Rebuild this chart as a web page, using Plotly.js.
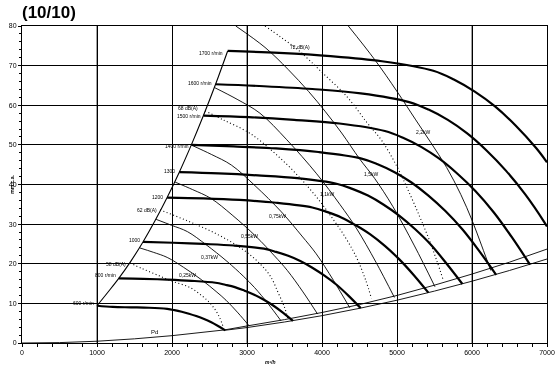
<!DOCTYPE html>
<html><head><meta charset="utf-8">
<script src="https://cdn.plot.ly/plotly-3.0.1.min.js"></script>
<style>html,body{margin:0;padding:0;background:#fff}#chart{width:560px;height:368px;filter:grayscale(100%)}</style>
</head><body><div id="chart"></div>
<script>
// ---------- DATA (m3/h , mm.c.a.) ----------
const rpmNames = ['600 r/min','800 r/min','1000','1200','1300','1400 r/min','1500 r/min','1600 r/min','1700 r/min'];
const rpm600X  = [1000,1210,1452,1694,1936,2033,2130,2226,2323,2420,2517,2614,2710];
const rpm600Y  = [9.4,9.1,9.0,8.9,8.6,8.3,7.9,7.4,6.8,6.1,5.3,4.3,3.2];
const rpm800X  = [1290,1613,1935,2258,2580,2709,2838,2967,3096,3225,3354,3483,3612];
const rpm800Y  = [16.3,16.2,16.0,15.7,15.2,14.7,14.1,13.2,12.2,10.9,9.4,7.6,5.6];
const rpm1000X = [1613,2016,2420,2823,3226,3387,3549,3710,3871,4033,4194,4355,4516];
const rpm1000Y = [25.5,25.3,25.0,24.6,23.8,23.0,22.0,20.7,19.0,17.0,14.7,11.9,8.8];
const rpm1200X = [1935,2419,2903,3386,3870,4064,4257,4451,4644,4838,5031,5225,5418];
const rpm1200Y = [36.7,36.5,36.1,35.4,34.2,33.1,31.7,29.7,27.4,24.5,21.1,17.1,12.7];
const rpm1300X = [2097,2621,3146,3670,4194,4404,4613,4823,5033,5243,5452,5662,5872];
const rpm1300Y = [43.1,42.8,42.3,41.6,40.2,38.9,37.2,34.9,32.1,28.7,24.8,20.0,14.9];
const rpm1400X = [2258,2823,3387,3952,4516,4742,4968,5193,5419,5645,5871,6097,6322];
const rpm1400Y = [50.0,49.6,49.1,48.2,46.6,45.1,43.1,40.5,37.2,33.3,28.7,23.2,17.2];
const rpm1500X = [2419,3024,3629,4233,4838,5080,5322,5564,5806,6048,6289,6531,6773];
const rpm1500Y = [57.4,57.0,56.3,55.4,53.5,51.8,49.5,46.5,42.7,38.3,33.0,26.7,19.8];
const rpm1600X = [2581,3226,3871,4517,5162,5420,5678,5936,6194,6452,6710,6968,7000];
const rpm1600Y = [65.3,64.8,64.1,63.0,60.8,58.9,56.3,52.9,48.6,43.5,37.5,30.4,29.4];
const rpm1700X = [2742,3428,4113,4799,5484,5758,6032,6307,6581,6855,7000];
const rpm1700Y = [73.7,73.2,72.4,71.1,68.7,66.5,63.5,59.7,54.9,49.2,45.6];

// left limit curve through the start of each speed curve
const limitX = [1000,1145,1290,1450,1613,1775,1935,2097,2258,2419,2581,2742];
const limitY = [9.4,12.8,16.3,20.6,25.5,30.9,36.7,43.1,50.0,57.4,65.3,73.7];

// dynamic pressure Pd and the lower limit line
const pdX  = [0,500,1000,1500,2000,2500,2700,3000,3500,4000,4500,5000,5500,6000,6500,7000];
const pdY  = [0,0.1,0.45,1.05,1.85,2.9,3.3,4.3,5.9,7.7,9.7,12.0,14.6,17.4,20.4,23.7];
const lowX = [2700,3000,3500,4000,4500,5000,5500,6000,6500,7000];
const lowY = [3.2,3.9,5.3,6.9,8.75,10.8,13.1,15.6,18.3,21.2];

// iso-power lines (kW)
const kwNames = ['0,25kW','0,37kW','0,55kW','0,75kW','1,1kW','1,5kW','2,2kW'];
const kw025X = [1570,1750,1936,2154,2398,2588,2720,2880,3030];
const kw025Y = [24.0,22.9,21.6,19.1,15.9,13.0,10.8,7.6,4.3];
const kw037X = [1789,1994,2206,2455,2733,2949,3100,3282,3453];
const kw037Y = [31.2,29.7,28.1,24.8,20.6,16.9,14.0,9.9,5.6];
const kw055X = [2042,2276,2518,2802,3119,3366,3538,3746,3941];
const kw055Y = [40.6,38.7,36.5,32.3,26.9,22.0,18.3,12.9,7.3];
const kw075X = [2264,2524,2792,3107,3458,3732,3923,4153,4370];
const kw075Y = [49.9,47.6,44.9,39.7,33.1,27.0,22.5,15.8,8.9];
const kw11X  = [2573,2868,3172,3530,3929,4241,4457,4719,4965];
const kw11Y  = [64.4,61.5,58.0,51.3,42.7,34.9,29.0,20.4,11.5];
const kw15X  = [2850,3240,3550,3820,4040,4262,4500,4703,4943,5233,5506];
const kw15Y  = [80.0,74.6,69.0,63.5,58.5,53.0,46.5,41.5,34.5,24.5,14.2];
const kw22X  = [4351,4707,4996,5250,5450,5662,5850,6000,6130,6250];
const kw22Y  = [80.0,71.4,63.6,56.3,50.6,44.3,37.5,31.0,24.5,18.3];

// iso-noise lines dB(A)
const dbNames = ['58 dB(A)','62 dB(A)','68 dB(A)','72 dB(A)'];
const db58X = [1440,1600,1800,2000,2240,2400,2500,2580,2640,2680];
const db58Y = [20.2,18.8,17.2,15.6,14.0,11.9,10.2,8.3,6.2,4.2];
const db62X = [1840,2196,2596,2907,3129,3307,3420,3500,3545];
const db62Y = [33.6,30.9,27.5,24.1,20.8,17.0,12.5,9.0,6.2];
const db68X = [2440,2684,3040,3400,3700,3920,4100,4300,4460,4580,4660];
const db68Y = [58.6,56.3,52.9,47.4,41.8,37.0,32.5,27.0,21.6,16.0,11.2];
const db72X = [3240,3450,3684,4000,4340,4600,4800,5000,5150,5300,5420,5530,5620];
const db72Y = [80.0,77.2,73.9,68.3,62.0,55.6,51.0,44.5,38.5,32.0,26.5,20.8,15.7];

const xTicks = [0,1000,2000,3000,4000,5000,6000,7000];
const yTicks = [0,10,20,30,40,50,60,70,80];

// label anchors (data units)
const rpmLabelX = [987,1280,1600,1907,2067,2253,2413,2560,2707];
const rpmLabelY = [10.0,17.2,26.0,36.9,43.5,49.8,57.4,65.5,73.3];
const kwLabelX = [2200,2500,3027,3413,4060,4647,5340];
const kwLabelY = [17.2,21.8,27.0,32.0,37.6,42.6,53.3];
const dbLabelX = [1413,1827,2373,3867];
const dbLabelY = [19.9,33.6,59.2,74.8];

// ---------- BUILD ----------
const FONT = 'Liberation Sans, Arial, sans-serif';
const traces = [];
function add(x, y, line, shape) {
  traces.push({x: x, y: y, type: 'scatter', mode: 'lines', hoverinfo: 'skip', showlegend: false,
    line: Object.assign({shape: shape || 'spline', smoothing: 1}, line)});
}
const thin = {color: '#000', width: 0.9};
const dotted = {color: '#000', width: 1.1, dash: '1px,2.5px'};
const thick = {color: '#000', width: 2.2};

add(pdX, pdY, thin, 'linear');
add(lowX, lowY, thin, 'linear');
add(limitX, limitY, {color: '#000', width: 1.1});
[[kw025X,kw025Y],[kw037X,kw037Y],[kw055X,kw055Y],[kw075X,kw075Y],[kw11X,kw11Y],[kw15X,kw15Y],[kw22X,kw22Y]]
  .forEach(p => add(p[0], p[1], thin));
[[db58X,db58Y],[db62X,db62Y],[db68X,db68Y],[db72X,db72Y]].forEach(p => add(p[0], p[1], dotted));
[[rpm600X,rpm600Y],[rpm800X,rpm800Y],[rpm1000X,rpm1000Y],[rpm1200X,rpm1200Y],[rpm1300X,rpm1300Y],
 [rpm1400X,rpm1400Y],[rpm1500X,rpm1500Y],[rpm1600X,rpm1600Y],[rpm1700X,rpm1700Y]]
  .forEach(p => add(p[0], p[1], thick));

const small = {family: FONT, size: 5, color: '#000'};
const ann = [];
rpmNames.forEach((t, i) => ann.push({x: rpmLabelX[i], y: rpmLabelY[i], text: t, showarrow: false,
  xanchor: 'right', yanchor: 'middle', font: small}));
dbNames.forEach((t, i) => ann.push({x: dbLabelX[i], y: dbLabelY[i], text: t, showarrow: false,
  xanchor: 'right', yanchor: 'middle', font: small}));
kwNames.forEach((t, i) => ann.push({x: kwLabelX[i], y: kwLabelY[i], text: t, showarrow: false,
  xanchor: 'center', yanchor: 'middle', font: small}));
ann.push({x: 1773, y: 2.9, text: 'Pd', showarrow: false, font: {family: FONT, size: 6, color: '#000'}});
ann.push({xref: 'paper', yref: 'paper', x: -0.03, y: 0.5, text: '<b>mm.c.a.</b>', textangle: -90,
  showarrow: false, font: {family: FONT, size: 5, color: '#000'}});
ann.push({xref: 'paper', yref: 'paper', x: 0.473, y: -0.045, yanchor: 'top', text: '<b><i>m³/h</i></b>',
  showarrow: false, font: {family: FONT, size: 5, color: '#000'}});

const shapes = [1000, 3000, 6000].map(v => ({type: 'line', xref: 'x', yref: 'y', x0: v, x1: v, y0: 0, y1: 80,
  layer: 'below', line: {color: '#8a8a8a', width: 1.6}}));

const layout = {
  width: 560, height: 368,
  margin: {l: 22, r: 13, t: 26, b: 25, pad: 0},
  paper_bgcolor: '#fff', plot_bgcolor: '#fff',
  title: {text: '<b>(10/10)</b>', xref: 'container', yref: 'container', x: 22/560, xanchor: 'left',
    y: 1 - 12/368, yanchor: 'middle', font: {family: FONT, size: 17, color: '#000'}},
  xaxis: {range: [0, 7000], tickvals: xTicks, ticktext: xTicks.map(String), showgrid: true, gridcolor: '#000',
    gridwidth: 1, zeroline: false, showline: true, linecolor: '#000', linewidth: 1, mirror: true,
    ticks: 'outside', ticklen: 3, tickcolor: '#000', tickwidth: 1,
    minor: {dtick: 200, ticks: 'outside', ticklen: 3, tickcolor: '#000', showgrid: false},
    tickfont: {family: FONT, size: 7, color: '#000'}, fixedrange: true},
  yaxis: {range: [0, 80], tickvals: yTicks, ticktext: yTicks.map(String), showgrid: true, gridcolor: '#000',
    gridwidth: 1, zeroline: false, showline: true, linecolor: '#000', linewidth: 1, mirror: true,
    ticks: 'outside', ticklen: 3, tickcolor: '#000', tickwidth: 1,
    minor: {dtick: 2, ticks: 'outside', ticklen: 2, tickcolor: '#000', showgrid: false},
    tickfont: {family: FONT, size: 7, color: '#000'}, fixedrange: true},
  annotations: ann,
  shapes: shapes
};
Plotly.newPlot('chart', traces, layout, {staticPlot: true, displayModeBar: false});
</script></body></html>
